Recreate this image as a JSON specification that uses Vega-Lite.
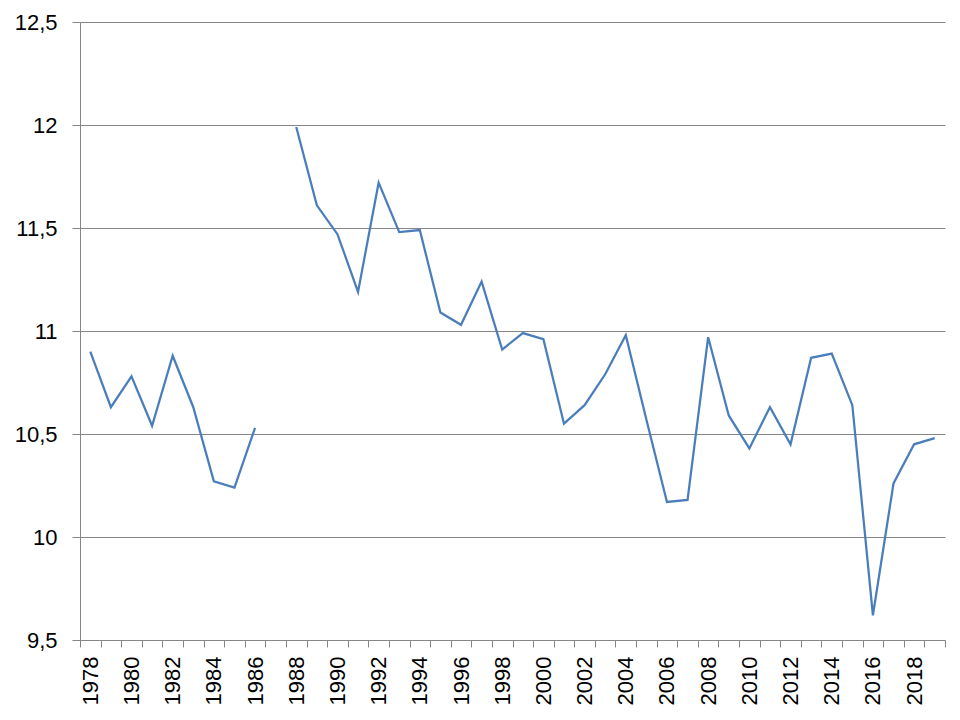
{
  "$schema": "https://vega.github.io/schema/vega-lite/v6.json",
  "width": 865,
  "height": 618,
  "autosize": {"type": "none"},
  "padding": {"left": 80, "top": 22, "right": 15, "bottom": 80},
  "background": "white",
  "config": {"view": {"stroke": null}, "font": "Liberation Sans"},
  "data": {"values": [
    {"year": 1978, "value": 10.90},
    {"year": 1979, "value": 10.63},
    {"year": 1980, "value": 10.78},
    {"year": 1981, "value": 10.54},
    {"year": 1982, "value": 10.88},
    {"year": 1983, "value": 10.63},
    {"year": 1984, "value": 10.27},
    {"year": 1985, "value": 10.24},
    {"year": 1986, "value": 10.53},
    {"year": 1987, "value": null},
    {"year": 1988, "value": 11.99},
    {"year": 1989, "value": 11.61},
    {"year": 1990, "value": 11.47},
    {"year": 1991, "value": 11.19},
    {"year": 1992, "value": 11.72},
    {"year": 1993, "value": 11.48},
    {"year": 1994, "value": 11.49},
    {"year": 1995, "value": 11.09},
    {"year": 1996, "value": 11.03},
    {"year": 1997, "value": 11.24},
    {"year": 1998, "value": 10.91},
    {"year": 1999, "value": 10.99},
    {"year": 2000, "value": 10.96},
    {"year": 2001, "value": 10.55},
    {"year": 2002, "value": 10.64},
    {"year": 2003, "value": 10.79},
    {"year": 2004, "value": 10.98},
    {"year": 2005, "value": 10.57},
    {"year": 2006, "value": 10.17},
    {"year": 2007, "value": 10.18},
    {"year": 2008, "value": 10.97},
    {"year": 2009, "value": 10.59},
    {"year": 2010, "value": 10.43},
    {"year": 2011, "value": 10.63},
    {"year": 2012, "value": 10.45},
    {"year": 2013, "value": 10.87},
    {"year": 2014, "value": 10.89},
    {"year": 2015, "value": 10.64},
    {"year": 2016, "value": 9.62},
    {"year": 2017, "value": 10.26},
    {"year": 2018, "value": 10.45},
    {"year": 2019, "value": 10.48}
  ]},
  "mark": {"type": "line", "color": "#4A7EBB", "strokeWidth": 2.25},
  "encoding": {
    "x": {
      "field": "year",
      "type": "ordinal",
      "bandPosition": 0.5,
      "scale": {"type": "band", "paddingInner": 0, "paddingOuter": 0},
      "axis": {
        "title": null,
        "tickBand": "extent",
        "labelAngle": -90,
        "labelExpr": "toNumber(datum.value) % 2 == 0 ? datum.label : ''",
        "labelFontSize": 22,
        "labelColor": "#000000",
        "labelPadding": 9,
        "labelOverlap": false,
        "tickSize": 7,
        "tickColor": "#868686",
        "domainColor": "#868686",
        "grid": false
      }
    },
    "y": {
      "field": "value",
      "type": "quantitative",
      "scale": {"domain": [9.5, 12.5], "nice": false, "zero": false},
      "axis": {
        "title": null,
        "values": [9.5, 10, 10.5, 11, 11.5, 12, 12.5],
        "labelExpr": "replace(toString(datum.value), '.', ',')",
        "labelFontSize": 22,
        "labelColor": "#000000",
        "labelPadding": 15,
        "tickSize": 8,
        "tickColor": "#868686",
        "domainColor": "#868686",
        "grid": true,
        "gridColor": "#868686",
        "gridOpacity": 1
      }
    }
  }
}
